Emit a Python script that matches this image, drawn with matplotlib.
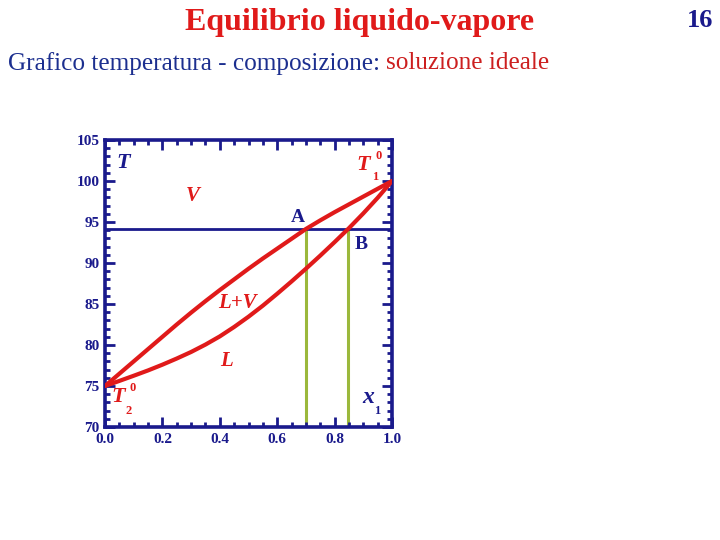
import matplotlib
matplotlib.use("Agg")
import matplotlib.pyplot as plt
from matplotlib.ticker import MultipleLocator

# Data
x_vap = [0.0, 0.05, 0.1, 0.15, 0.2, 0.25, 0.3, 0.35, 0.4, 0.45, 0.5, 0.55,
         0.6, 0.65, 0.7, 0.75, 0.8, 0.85, 0.9, 0.95, 1.0]
T_vap = [75.0, 76.5, 78.0, 79.5, 81.0, 82.5, 83.95, 85.35, 86.7, 88.0, 89.3,
         90.55, 91.75, 92.95, 94.15, 95.2, 96.2, 97.15, 98.1, 99.05, 100.0]
x_liq = [0.0, 0.05, 0.1, 0.15, 0.2, 0.25, 0.3, 0.35, 0.4, 0.45, 0.5, 0.55,
         0.6, 0.65, 0.7, 0.75, 0.8, 0.85, 0.9, 0.95, 1.0]
T_liq = [75.0, 75.62, 76.25, 76.9, 77.6, 78.35, 79.15, 80.05, 81.05, 82.2,
         83.45, 84.8, 86.25, 87.75, 89.3, 90.9, 92.55, 94.25, 96.05, 97.95, 100.0]
T_line = 94.2
x_A = 0.70
x_B = 0.845
xticks = [0.0, 0.2, 0.4, 0.6, 0.8, 1.0]
yticks = [70, 75, 80, 85, 90, 95, 100, 105]

NAVY = "#1a1a8c"
RED = "#e01a1a"
GREEN = "#9bb83c"
BLUE_TXT = "#1c2f8f"

plt.rcParams['font.family'] = ['Liberation Serif', 'DejaVu Serif']

fig = plt.figure(figsize=(7.2, 5.4), dpi=100)
fig.patch.set_facecolor("white")

fig.text(0.5, 0.958, "Equilibrio liquido-vapore", color=RED, fontsize=23,
         fontweight="bold", ha="center", va="center")
fig.text(0.972, 0.962, "16", color=NAVY, fontsize=19, fontweight="bold",
         ha="center", va="center")
t1 = fig.text(0.011, 0.883, "Grafico temperatura - composizione: ", color=BLUE_TXT,
              fontsize=18.2, ha="left", va="center")
fig.canvas.draw()
bb = t1.get_window_extent()
x_end = bb.x1 / fig.bbox.width
fig.text(x_end, 0.883, "soluzione ideale", color="#cc1f1f", fontsize=18.2,
         ha="left", va="center")

ax = fig.add_axes([105/720, 1 - 427/540, 287/720, 287/540])
ax.plot(x_vap, T_vap, color=RED, lw=3.0, solid_capstyle="round",
        solid_joinstyle="round", zorder=3)
ax.plot(x_liq, T_liq, color=RED, lw=3.0, solid_capstyle="round",
        solid_joinstyle="round", zorder=3)
ax.axhline(T_line, color=NAVY, lw=2, zorder=2)
ax.plot([x_A, x_A], [70, T_line], color=GREEN, lw=2.2, zorder=1)
ax.plot([x_B, x_B], [70, T_line], color=GREEN, lw=2.2, zorder=1)

ax.set_xlim(0, 1)
ax.set_ylim(70, 105)
ax.set_xticks(xticks)
ax.set_yticks(yticks)
ax.set_xticklabels([f"{v:.1f}" for v in xticks])
ax.set_yticklabels([str(v) for v in yticks])
ax.xaxis.set_minor_locator(MultipleLocator(0.05))
ax.yaxis.set_minor_locator(MultipleLocator(1))
ax.tick_params(which="both", direction="in", top=True, right=True, color=NAVY,
               width=2)
ax.tick_params(which="major", length=7, labelsize=11, labelcolor=NAVY, pad=4)
ax.tick_params(which="minor", length=3.5)
for lab in ax.get_xticklabels() + ax.get_yticklabels():
    lab.set_fontweight("bold")
for s in ax.spines.values():
    s.set_color(NAVY)
    s.set_linewidth(2.6)

bi = dict(fontweight="bold", fontstyle="italic")
ax.text(0.065, 102.2, "T", color=NAVY, fontsize=16, ha="center", va="center", **bi)
ax.text(0.305, 98.2, "V", color=RED, fontsize=15, ha="center", va="center", **bi)
ax.text(0.672, 95.6, "A", color=NAVY, fontsize=14, ha="center", va="center",
        fontweight="bold")
ax.text(0.892, 92.3, "B", color=NAVY, fontsize=14, ha="center", va="center",
        fontweight="bold")
ax.text(0.394, 85.1, "L+V", color=RED, fontsize=15, ha="left", va="center", **bi)
ax.text(0.425, 78.0, "L", color=RED, fontsize=15, ha="center", va="center", **bi)
# T1^0
ax.text(0.90, 101.95, "T", color=RED, fontsize=16, ha="center", va="center", **bi)
ax.text(0.952, 103.0, "0", color=RED, fontsize=9, ha="center", va="center",
        fontweight="bold")
ax.text(0.940, 100.5, "1", color=RED, fontsize=9, ha="center", va="center",
        fontweight="bold")
# T2^0
ax.text(0.045, 73.66, "T", color=RED, fontsize=16, ha="center", va="center", **bi)
ax.text(0.097, 74.7, "0", color=RED, fontsize=9, ha="center", va="center",
        fontweight="bold")
ax.text(0.083, 72.0, "2", color=RED, fontsize=9, ha="center", va="center",
        fontweight="bold")
# x1
ax.text(0.916, 73.6, "x", color=NAVY, fontsize=17, ha="center", va="center", **bi)
ax.text(0.950, 72.0, "1", color=NAVY, fontsize=9, ha="center", va="center",
        fontweight="bold")

fig.savefig("out.png", dpi=100, facecolor="white")
